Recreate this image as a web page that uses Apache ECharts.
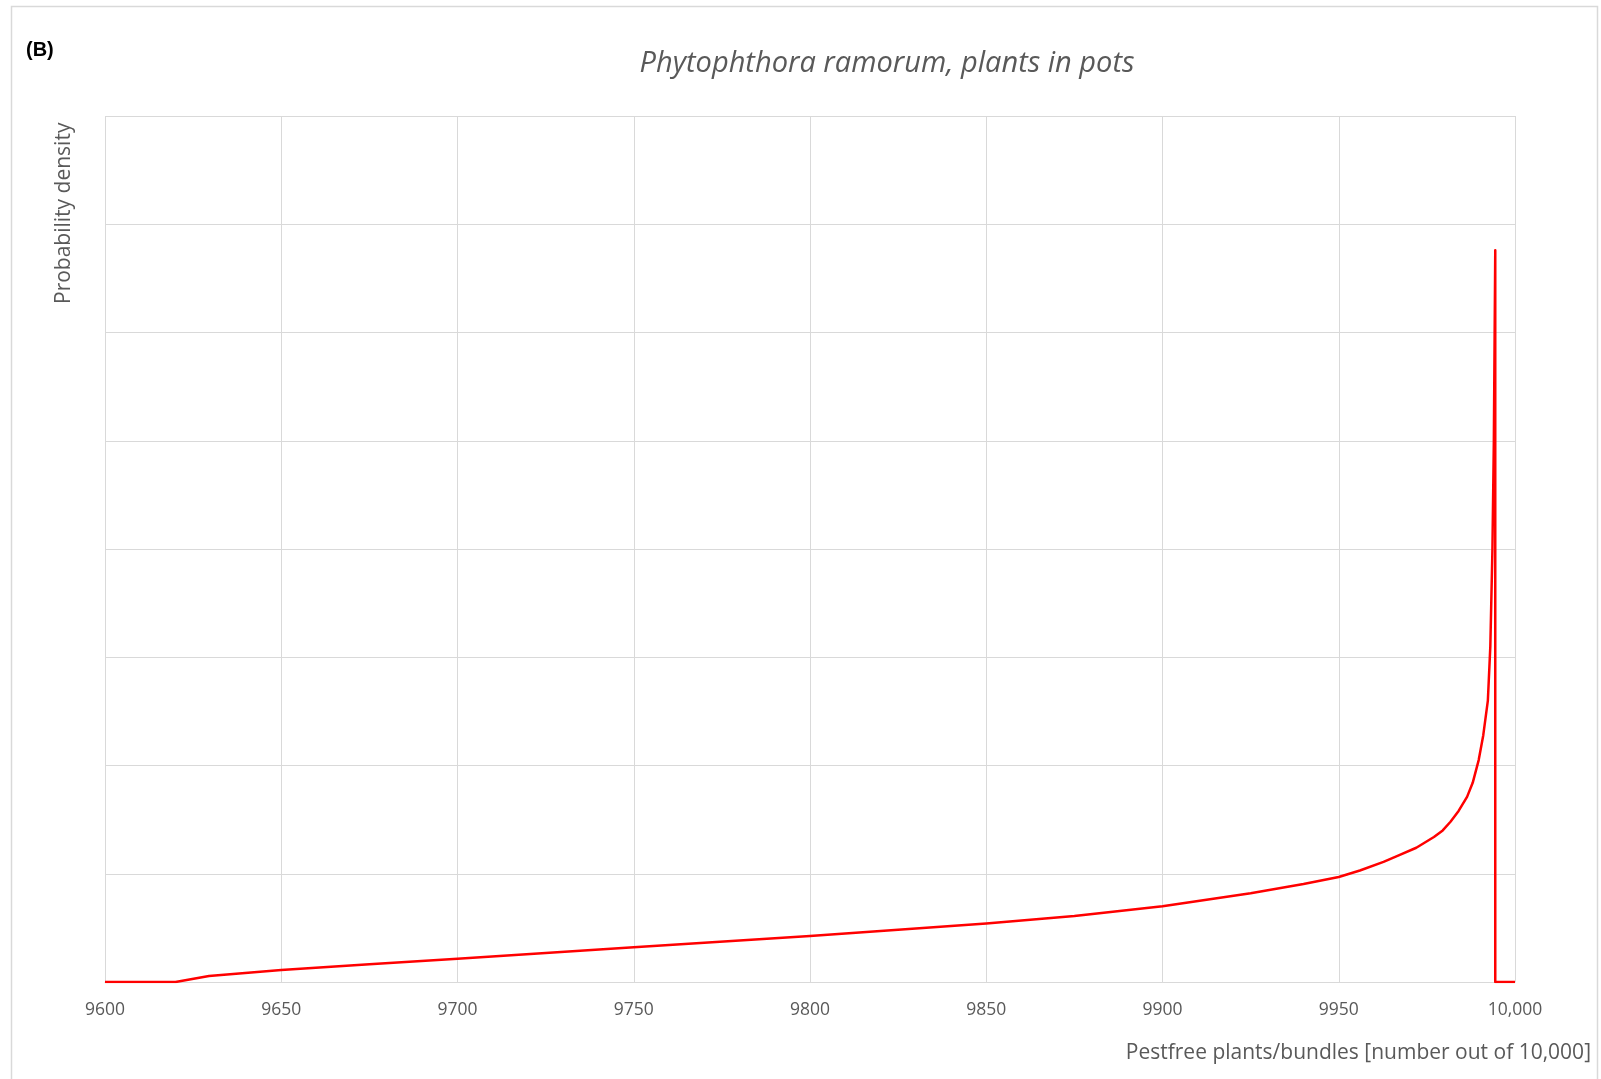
<!DOCTYPE html>
<html>
<head>
<meta charset="utf-8">
<script src="https://cdn.jsdelivr.net/npm/echarts@6/dist/echarts.min.js"></script>
<style>
html,body{margin:0;padding:0;background:#fff;}
#chart{width:1601px;height:1079px;}
</style>
</head>
<body>
<div id="chart"></div>
<script>
// Data (x = pestfree plants out of 10,000, y = probability density in grid units)
const xValues = [9600, 9620, 9629.5, 9650, 9675, 9700, 9750, 9800, 9850, 9875, 9900, 9925, 9940, 9950, 9956, 9962.7, 9967, 9972, 9977, 9979.5, 9981.7, 9984, 9986.4, 9988, 9989.7, 9991, 9992.3, 9993.0, 9993.6, 9994.0, 9994.4, 9994.4, 10000];
const yValues = [0, 0, 0.055, 0.11, 0.165, 0.215, 0.32, 0.425, 0.54, 0.61, 0.70, 0.82, 0.905, 0.97, 1.03, 1.11, 1.17, 1.24, 1.34, 1.40, 1.48, 1.58, 1.71, 1.84, 2.05, 2.28, 2.6, 3.1, 4.0, 5.0, 6.76, 0, 0];
const xTicks = [9600, 9650, 9700, 9750, 9800, 9850, 9900, 9950, 10000];
const panelLabel = '(B)';
const titleText = 'Phytophthora ramorum, plants in pots';
const yName = 'Probability density';
const xName = 'Pestfree plants/bundles [number out of 10,000]';

const seriesData = xValues.map((x, i) => [x, yValues[i]]);
const FONT = 'Open Sans';
const GREY = '#595959';

const chart = echarts.init(document.getElementById('chart'));
chart.setOption({
  animation: false,
  backgroundColor: '#fff',
  grid: {left: 105, right: 86, top: 116, bottom: 97, containLabel: false},
  xAxis: {
    type: 'value', min: 9600, max: 10000, interval: 50,
    axisLine: {show: true, lineStyle: {color: '#d9d9d9', width: 1}},
    axisTick: {show: false},
    splitLine: {show: true, lineStyle: {color: '#d9d9d9', width: 1}},
    axisLabel: {
      color: GREY, fontFamily: FONT, fontSize: 17.5, margin: 19,
      formatter: v => xTicks.includes(v) ? (v >= 10000 ? v.toLocaleString('en-US') : String(v)) : ''
    }
  },
  yAxis: {
    type: 'value', min: 0, max: 8, interval: 1,
    axisLine: {show: false}, axisTick: {show: false},
    axisLabel: {show: false},
    splitLine: {show: true, lineStyle: {color: '#d9d9d9', width: 1}}
  },
  series: [{
    type: 'line', data: seriesData, showSymbol: false, smooth: false,
    lineStyle: {color: '#ff0000', width: 2.5, join: 'round'}, itemStyle: {color: '#ff0000'}
  }],
  graphic: [
    {type: 'rect', z: -1, shape: {x: 11.5, y: 6.5, width: 1586, height: 1100},
     style: {fill: 'none', stroke: '#d9d9d9', lineWidth: 1.5}},
    {type: 'text', left: 26, top: 40,
     style: {text: panelLabel, font: 'bold 20px "Liberation Sans"', fill: '#000'}},
    {type: 'text', x: 887, y: 64,
     style: {text: titleText, font: 'italic 29px "Open Sans"', fill: GREY, textAlign: 'center', textVerticalAlign: 'middle'}},
    {type: 'text', x: 64, y: 304, rotation: Math.PI / 2,
     style: {text: yName, font: '21px "Open Sans"', fill: GREY, textAlign: 'left', textVerticalAlign: 'middle'}},
    {type: 'text', x: 1591, y: 1053,
     style: {text: xName, font: '21px "Open Sans"', fill: GREY, textAlign: 'right', textVerticalAlign: 'middle'}}
  ]
});
</script>
</body>
</html>
